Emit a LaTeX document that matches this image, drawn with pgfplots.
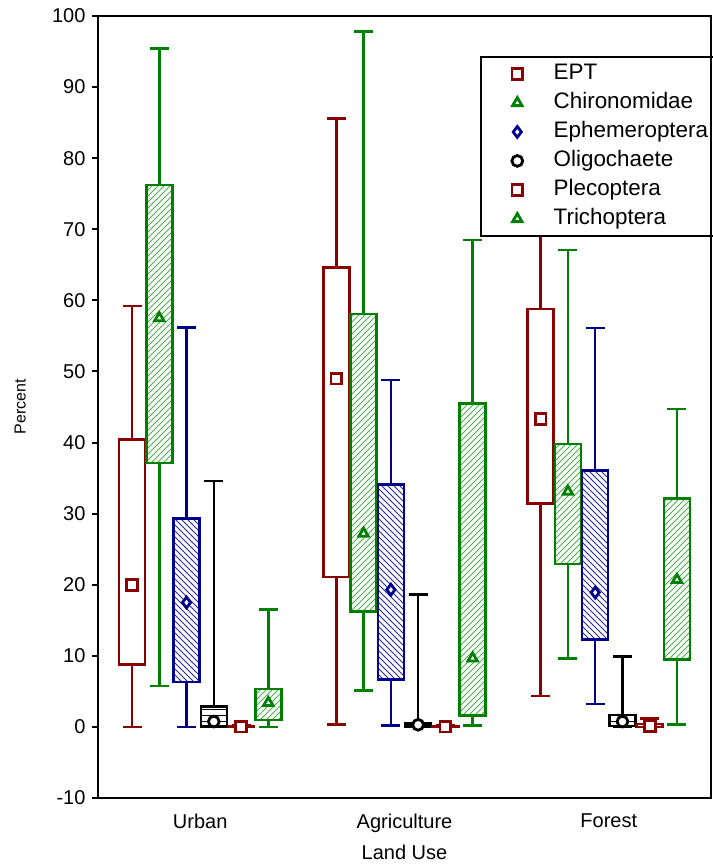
\documentclass[border=0pt]{standalone}
\usepackage{pgfplots}
\pgfplotsset{compat=1.18}
\usepgfplotslibrary{statistics}
\usetikzlibrary{patterns}
\usepackage{fontspec}
\setmainfont{Liberation Sans}
\definecolor{cred}{RGB}{139,0,0}
\definecolor{cgreen}{RGB}{0,128,0}
\definecolor{hgreen}{RGB}{80,175,80}
\definecolor{cblue}{RGB}{0,0,139}
\definecolor{hblue}{RGB}{40,40,160}
\pgfplotsset{
  bp/.style n args={6}{boxplot prepared={draw direction=y, draw position=#1, lower whisker=#2, lower quartile=#3, median=#4, upper quartile=#5, upper whisker=#6}},
  eptbox/.style={draw=cred, fill=white, line width=1.25pt},
  chibox/.style={draw=cgreen, pattern=north east lines, pattern color=hgreen, line width=1.25pt},
  ephbox/.style={draw=cblue, pattern=north west lines, pattern color=hblue, line width=1.25pt},
  olibox/.style={draw=black, pattern=horizontal lines, pattern color=black, line width=1.25pt},
  plebox/.style={draw=cred, fill=white, line width=1.25pt},
  tribox/.style={draw=cgreen, pattern=north east lines, pattern color=hgreen, line width=1.25pt},
  mk/.style={only marks, mark size=2.7pt, mark options={solid, fill=white, line width=1.4pt}},
}
\begin{document}
\begin{tikzpicture}
\begin{axis}[
  name=ax, at={(0,0)}, anchor=south west,
  scale only axis, width=306.5pt, height=391pt,
  xmin=0.5, xmax=3.5, ymin=-10, ymax=100,
  xtick={1,2,3}, xticklabels={Urban,Agriculture,Forest},
  ytick={-10,0,...,100},
  tick align=outside, tick pos=left, major tick length=2.75pt,
  x tick style={draw=none}, y tick style={line width=1pt, black},
  axis line style={line width=1.4pt},
  tick label style={font=\fontsize{10}{12}\selectfont},
  /pgf/number format/assume math mode=true,
  xticklabel style={yshift=-1.5pt},
  xlabel={Land Use}, ylabel={Percent},
  every axis x label/.style={at={(axis description cs:0.5,-0.069)}, anchor=center, font=\fontsize{10}{12}\selectfont},
  every axis y label/.style={at={(axis description cs:-0.127,0.5)}, rotate=90, anchor=center, font=\fontsize{8}{10}\selectfont},
  boxplot/box extend=0.127, boxplot/whisker extend=0.093,
  boxplot/draw/median/.code={},
  legend style={at={(rel axis cs:0.623,0.9488)}, anchor=north west, draw=black, line width=1pt, fill=white,
    font=\fontsize{11.2}{14}\selectfont, inner xsep=15.5pt, inner ysep=3pt, row sep=3.6pt,
    nodes={inner sep=0pt, text height=8.4pt, text depth=2.5pt},
    /tikz/every odd column/.append style={column sep=15.5pt}},
  legend cell align=left,
]
% Urban
\addplot[eptbox, forget plot, bp={0.6665}{0}{8.8}{20.0}{40.4}{59.2}] coordinates {};
\addplot[chibox, forget plot, bp={0.7999}{5.75}{37.1}{57.5}{76.2}{95.4}] coordinates {};
\addplot[ephbox, forget plot, bp={0.9333}{0}{6.3}{17.5}{29.3}{56.2}] coordinates {};
\addplot[olibox, forget plot, bp={1.0667}{0}{0.05}{0.75}{2.85}{34.6}] coordinates {};
\addplot[plebox, forget plot, bp={1.2001}{0}{0}{0.05}{0.15}{0.3}] coordinates {};
\addplot[tribox, forget plot, bp={1.3335}{0}{0.97}{3.4}{5.3}{16.5}] coordinates {};
% Agriculture
\addplot[eptbox, forget plot, bp={1.6665}{0.36}{21.1}{49.0}{64.6}{85.6}] coordinates {};
\addplot[chibox, forget plot, bp={1.7999}{5.1}{16.2}{27.2}{58.1}{97.8}] coordinates {};
\addplot[ephbox, forget plot, bp={1.9333}{0.2}{6.7}{19.3}{34.1}{48.8}] coordinates {};
\addplot[olibox, forget plot, bp={2.0667}{0}{0.05}{0.3}{0.5}{18.65}] coordinates {};
\addplot[plebox, forget plot, bp={2.2001}{0}{0}{0.05}{0.15}{0.3}] coordinates {};
\addplot[tribox, forget plot, bp={2.3335}{0.2}{1.6}{9.65}{45.5}{68.5}] coordinates {};
% Forest
\addplot[eptbox, forget plot, bp={2.6665}{4.35}{31.45}{43.3}{58.8}{80}] coordinates {};
\addplot[chibox, forget plot, bp={2.7999}{9.65}{22.9}{33.1}{39.8}{67.1}] coordinates {};
\addplot[ephbox, forget plot, bp={2.9333}{3.2}{12.3}{18.9}{36.1}{56.1}] coordinates {};
\addplot[olibox, forget plot, bp={3.0667}{0}{0.1}{0.75}{1.7}{9.9}] coordinates {};
\addplot[plebox, forget plot, bp={3.2001}{0}{0}{0.1}{0.4}{1.2}] coordinates {};
\addplot[tribox, forget plot, bp={3.3335}{0.36}{9.5}{20.7}{32.1}{44.7}] coordinates {};
% medians (markers)
\addplot[cred, mk, mark=square*] coordinates {(0.6665,20.0) (1.6665,49.0) (2.6665,43.3)};
\addlegendentry{EPT}
\addplot[cgreen, mk, mark=triangle*] coordinates {(0.7999,57.5) (1.7999,27.2) (2.7999,33.1)};
\addlegendentry{Chironomidae}
\addplot[cblue, mk, mark=diamond*] coordinates {(0.9333,17.5) (1.9333,19.3) (2.9333,18.9)};
\addlegendentry{Ephemeroptera}
\addplot[black, mk, mark=*] coordinates {(1.0667,0.75) (2.0667,0.3) (3.0667,0.75)};
\addlegendentry{Oligochaete}
\addplot[cred, mk, mark=square*] coordinates {(1.2001,0.05) (2.2001,0.05) (3.2001,0.1)};
\addlegendentry{Plecoptera}
\addplot[cgreen, mk, mark=triangle*] coordinates {(1.3335,3.4) (2.3335,9.65) (3.3335,20.7)};
\addlegendentry{Trichoptera}
\end{axis}
\draw[line width=1.4pt] (ax.north east) -- (ax.south east);
\pgfresetboundingbox
\path[use as bounding box] ([shift={(-49pt,-34pt)}]ax.south west) rectangle ([shift={(1pt,8pt)}]ax.north east);
\end{tikzpicture}
\end{document}
